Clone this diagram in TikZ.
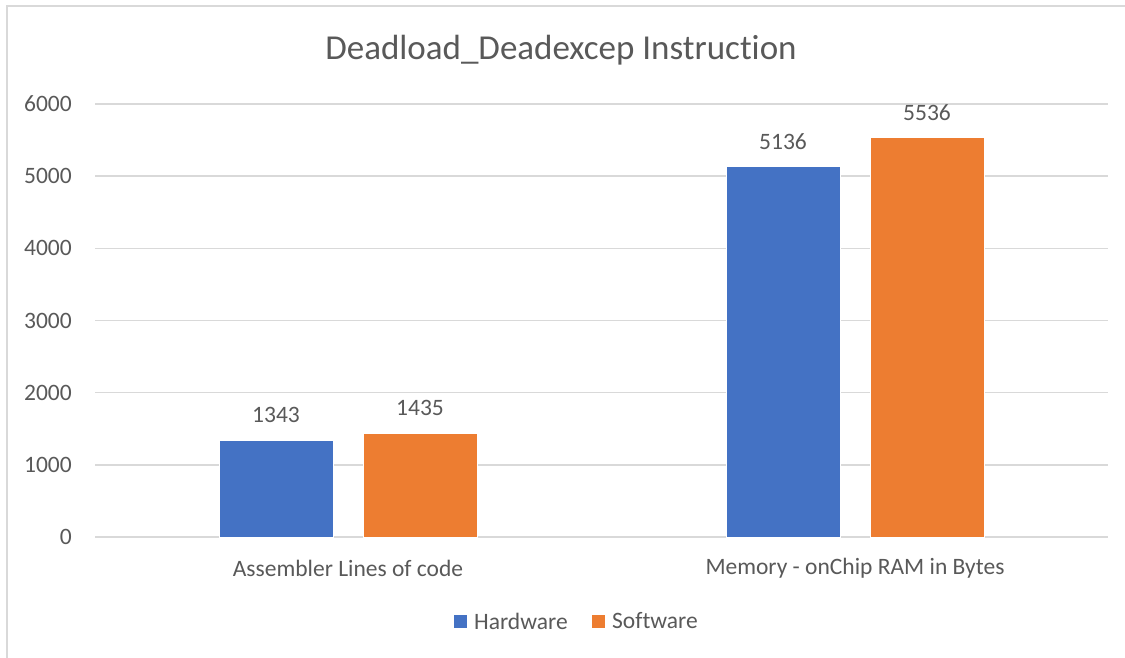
\documentclass[tikz,border=0pt]{standalone}
\usepackage{fontspec}
\setmainfont[Ligatures=NoCommon]{Carlito}
\definecolor{txt}{HTML}{595959}
\definecolor{grid}{HTML}{D9D9D9}
\definecolor{hw}{HTML}{4472C4}
\definecolor{sw}{HTML}{ED7D31}
\begin{document}
\begin{tikzpicture}[x=1pt,y=-1pt,
  lbl/.style={text=txt,font=\fontsize{23.5}{27}\selectfont,inner sep=0pt},
  ticklbl/.style={lbl,anchor=east},
  gridline/.style={draw=grid,line width=1.6pt},
  bar/.style={draw=white,line width=0.6pt}]
\useasboundingbox (0,0) rectangle (1125,657);
\fill[white] (0,0) rectangle (1125,657);
% chart border
\draw[grid,line width=1.6pt] (7,700) -- (7,6) -- (1140,6);
% title
\node[text=txt,font=\fontsize{35}{40}\selectfont,inner sep=0pt] (title) at (561,50) {Deadload\_Deadexcep Instruct\kern0pt ion};
% gridlines and tick labels
\foreach \v in {0,1000,...,6000}{
  \pgfmathsetmacro{\yy}{537-\v*0.07217}
  \draw[gridline] (95,\yy) -- (1108,\yy);
  \node[ticklbl] (t\v) at (72,\yy) {\v};
}
% bars
\def\yof#1{537-#1*0.07217}
\fill[hw,bar] (219,537) rectangle (333,{\yof{1343}});
\fill[sw,bar] (363,537) rectangle (477,{\yof{1435}});
\fill[hw,bar] (726,537) rectangle (840,{\yof{5136}});
\fill[sw,bar] (870,537) rectangle (984,{\yof{5536}});
% data labels
\node[lbl] (d1) at (276,{\yof{1343}-25}) {1343};
\node[lbl] (d2) at (420,{\yof{1435}-25}) {1435};
\node[lbl] (d3) at (783,{\yof{5136}-25}) {5136};
\node[lbl] (d4) at (927,{\yof{5536}-25}) {5536};
% category labels
\node[lbl] (c1) at (348,568) {Assembler Lines of code};
\node[lbl] (c2) at (855,568) {Memory - onChip RAM in Bytes};
% legend
\fill[hw] (454,615) rectangle (467,628);
\node[lbl,anchor=west] (lh) at (474,621) {Hardware};
\fill[sw] (592,615) rectangle (605,628);
\node[lbl,anchor=west] (ls) at (612,621) {Software};
\end{tikzpicture}
\end{document}
